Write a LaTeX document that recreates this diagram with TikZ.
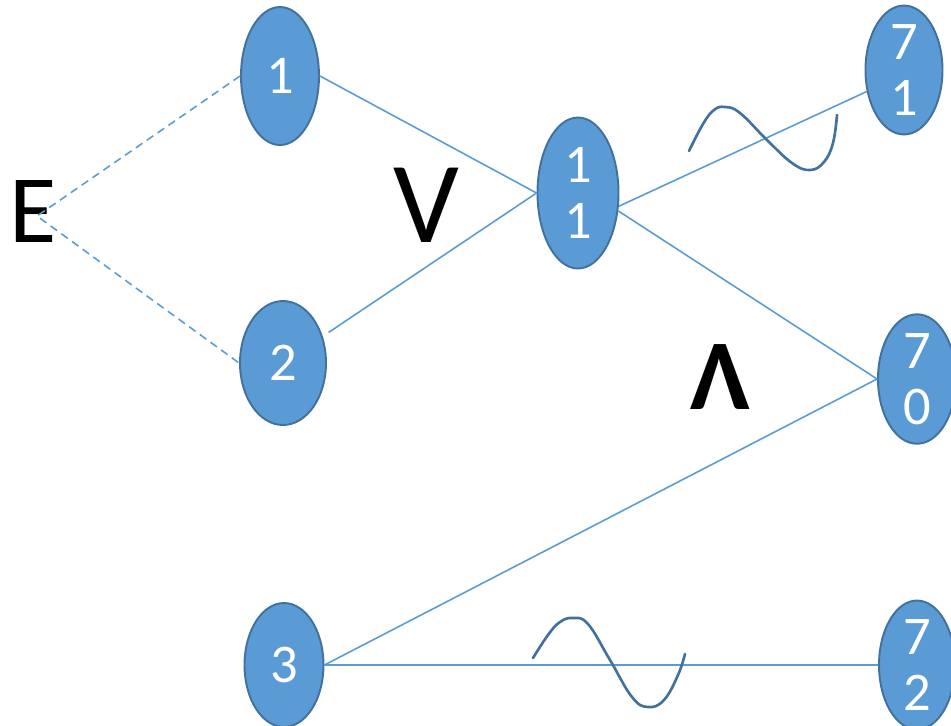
\documentclass[tikz,border=0pt]{standalone}
\usepackage{fontspec}
\setmainfont{Carlito}
\usetikzlibrary{shapes.geometric}
\definecolor{cellfill}{HTML}{5B9BD5}
\definecolor{celldraw}{HTML}{41719C}
\begin{document}
\begin{tikzpicture}[x=0.02cm,y=-0.02cm,
    cell/.style={ellipse,fill=cellfill,draw=celldraw,line width=1.1pt,inner sep=0pt,
        text=white,align=center,font=\fontsize{31}{32}\selectfont},
    link/.style={cellfill,line width=0.9pt},
    wave/.style={celldraw,line width=1.5pt,line cap=round}]
    \useasboundingbox (0,0) rectangle (951,725);
    \node[font=\fontsize{55}{60}\selectfont] (E) at (33,211) {E};
    \node[font=\fontsize{66}{70}\selectfont] (or) at (426,205) {V};
    \node[font=\fontsize{57}{60}\selectfont\bfseries] (and) at (720,377) {Λ};
    \coordinate (e0) at (37,216);
    \node[cell,minimum width=1.56cm,minimum height=2.76cm] (n1) at (280,76) {1};
    \node[cell,minimum width=1.72cm,minimum height=2.48cm] (n2) at (283,363) {2};
    \node[cell,minimum width=1.58cm,minimum height=2.48cm] (n3) at (284,665) {3};
    \node[cell,minimum width=1.62cm,minimum height=3.02cm] (n11) at (578,193) {1\\1};
    \node[cell,minimum width=1.54cm,minimum height=2.44cm] (n71) at (904,70) {7\\1};
    \node[cell,minimum width=1.56cm,minimum height=2.46cm] (n70) at (917,379) {7\\0};
    \node[cell,minimum width=1.52cm,minimum height=2.48cm] (n72) at (917,665) {7\\2};
    % dashed from E
    \draw[link,dash pattern=on 4.5pt off 3pt] (n1.west) -- (e0) -- (n2.west);
    \draw[link] (n1.east) -- (n11.west);
    \draw[link,shorten <=4pt] (n2) -- (n11.west);
    \draw[link] (n11.-18) -- (n71.210);
    \draw[link] (n11.-24) -- (n70.west);
    \draw[link] (n3.east) -- (n70.west);
    \draw[link] (n3.east) -- (n72.west);
    % waves
    \draw[wave] plot[smooth,tension=0.7] coordinates{(689,151) (703,124) (714,110) (725,107) (740,113)
        (767,140) (792,163) (810,170) (824,162) (833,143) (837,115)};
    \draw[wave] plot[smooth,tension=0.7] coordinates{(533,658) (548,635) (560,622) (573,618) (588,624)
        (610,660) (632,697) (648,707) (664,700) (678,675) (685,654)};
\end{tikzpicture}
\end{document}
